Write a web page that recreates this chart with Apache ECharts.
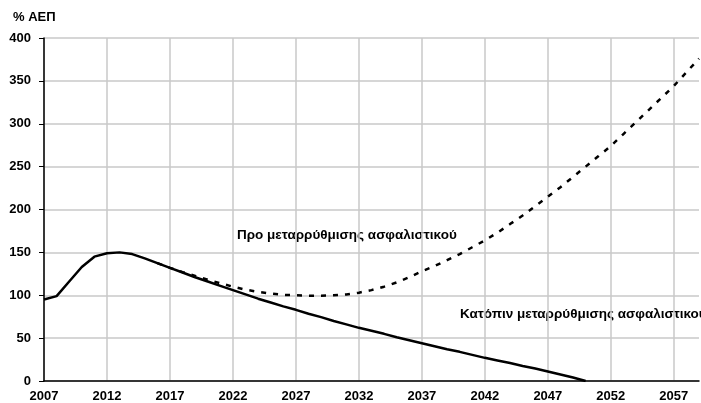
<!DOCTYPE html>
<html>
<head>
<meta charset="utf-8">
<script src="https://cdn.jsdelivr.net/npm/echarts@6/dist/echarts.min.js"></script>
<style>
  html, body { margin: 0; padding: 0; background: #fff; overflow: hidden; }
  #chart { width: 701px; height: 403px; }
</style>
</head>
<body>
<div id="chart"></div>
<script>
// years 2007..2059
var years = [];
for (var y = 2007; y <= 2059; y++) years.push(String(y));

// debt after the pension reform (% GDP)
var afterReform = [95, 99, 116, 133, 145, 149, 150, 148, 143, 137.5,
	132, 126.5, 121, 116, 111, 106, 101, 96, 91.5, 87,
	83, 78.5, 74.5, 70, 66, 62, 58.5, 55, 51, 47.5,
	44, 40.5, 37, 34, 30.5, 27, 24, 21, 17.5, 14.5,
	11, 7.5, 4, 0];

// debt before the pension reform (% GDP), from 2016 onwards
var beforeReform = [null, null, null, null, null, null, null, null, null, 137.5,
	132, 127, 122.5, 118, 114, 110, 106.5, 104, 102, 100.5,
	100, 99.5, 99.5, 100, 101, 103, 106, 110, 115, 121,
	128, 134, 141, 148, 156, 164, 173, 183, 193, 204,
	215, 226, 238, 250, 262, 274, 288, 302, 316, 330,
	344, 360, 376];

var yTicks = [0, 50, 100, 150, 200, 250, 300, 350, 400];

var chart = echarts.init(document.getElementById('chart'));
var font = 'Liberation Sans, Arial, sans-serif';

var option = {
	animation: false,
	grid: { left: 44, right: 2, top: 38, bottom: 20 },
	xAxis: {
		type: 'category',
		data: years,
		boundaryGap: false,
		axisLine: { lineStyle: { color: '#000', width: 1.5 } },
		axisTick: { show: false },
		axisLabel: {
			interval: 4, color: '#000', fontWeight: 'bold',
			fontSize: 13, fontFamily: font, margin: 9
		},
		splitLine: { show: true, interval: 4, lineStyle: { color: '#c8c8c8', width: 1.5 } }
	},
	yAxis: {
		type: 'value',
		min: yTicks[0],
		max: yTicks[yTicks.length - 1],
		interval: 50,
		axisLine: { show: true, lineStyle: { color: '#000', width: 1.5 } },
		axisTick: { show: true, length: 5, lineStyle: { color: '#000' } },
		axisLabel: { color: '#000', fontWeight: 'bold', fontSize: 13, fontFamily: font, margin: 13 },
		splitLine: { lineStyle: { color: '#c8c8c8', width: 1.5 } }
	},
	series: [{
		name: 'Προ μεταρρύθμισης ασφαλιστικού',
		type: 'line',
		data: beforeReform,
		showSymbol: false,
		lineStyle: { color: '#000', width: 2.5, type: [5, 7] }
	}, {
		name: 'Κατόπιν μεταρρύθμισης ασφαλιστικού',
		type: 'line',
		data: afterReform,
		showSymbol: false,
		lineStyle: { color: '#000', width: 2.5 }
	}],
	graphic: [{
		type: 'text', x: 13, y: 17,
		style: { text: '% ΑΕΠ', fill: '#000', font: 'bold 13px ' + font, verticalAlign: 'middle' }
	}, {
		type: 'text', x: 237, y: 235,
		style: { text: 'Προ μεταρρύθμισης ασφαλιστικού', fill: '#000', font: 'bold 13.5px ' + font, verticalAlign: 'middle' }
	}, {
		type: 'text', x: 460, y: 314,
		style: { text: 'Κατόπιν μεταρρύθμισης ασφαλιστικού', fill: '#000', font: 'bold 13.5px ' + font, verticalAlign: 'middle' }
	}]
};
chart.setOption(option);
</script>
</body>
</html>
